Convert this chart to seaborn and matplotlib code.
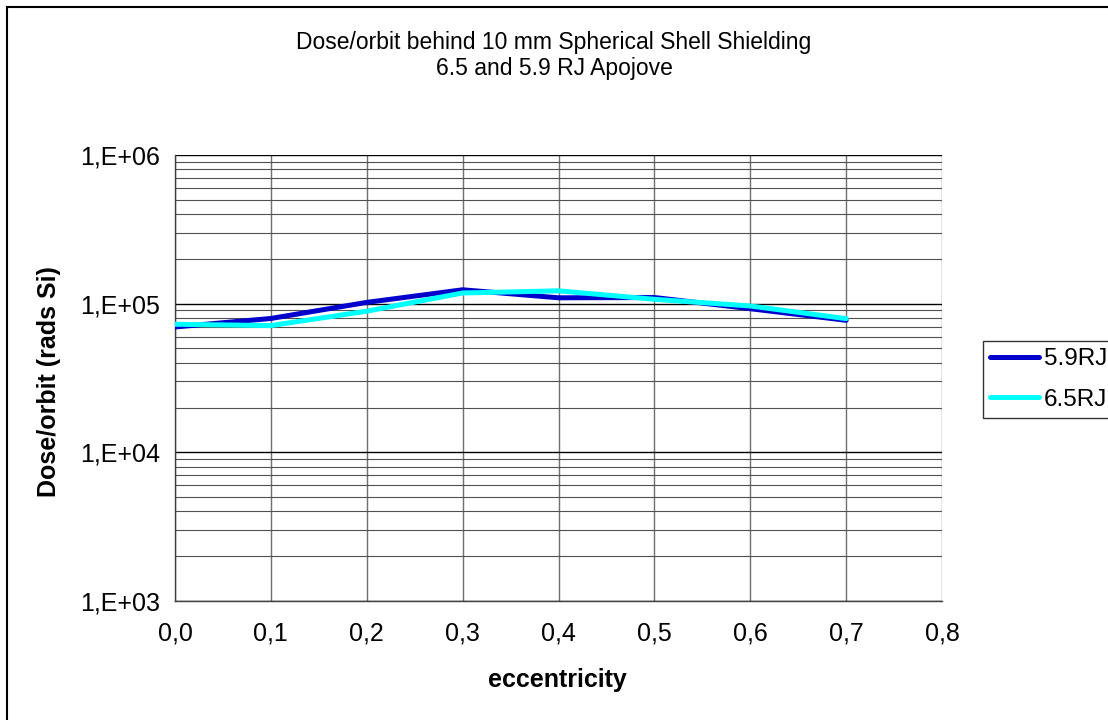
import matplotlib
matplotlib.use("Agg")
import matplotlib.pyplot as plt
import matplotlib.ticker as mticker
from matplotlib.patches import Rectangle
import seaborn as sns
import pandas as pd
import numpy as np

# ---- data ----
eccentricity = [0.0, 0.1, 0.2, 0.3, 0.4, 0.5, 0.6, 0.7]
dose_59RJ = [69700, 79500, 102000, 124000, 109500, 110000, 92500, 77300]
dose_65RJ = [72700, 71200, 89000, 118000, 122000, 107000, 96500, 79300]
series_names = ["5.9RJ", "6.5RJ"]
x_ticks = [0.0, 0.1, 0.2, 0.3, 0.4, 0.5, 0.6, 0.7, 0.8]
y_ticks = [1e3, 1e4, 1e5, 1e6]
title_line1 = "Dose/orbit behind 10 mm Spherical Shell Shielding"
title_line2 = "6.5 and 5.9 RJ Apojove"
x_label = "eccentricity"
y_label = "Dose/orbit (rads Si)"

df = pd.DataFrame({
    "ecc": eccentricity * 2,
    "dose": dose_59RJ + dose_65RJ,
    "series": [series_names[0]] * len(eccentricity) + [series_names[1]] * len(eccentricity),
})

sns.set_style("white")
plt.rcParams["font.family"] = ["Liberation Sans", "DejaVu Sans"]
plt.rcParams["text.color"] = "black"
plt.rcParams["axes.labelcolor"] = "black"
plt.rcParams["xtick.color"] = "black"
plt.rcParams["ytick.color"] = "black"

W, H = 1108, 720
fig = plt.figure(figsize=(W / 100, H / 100), dpi=100)
ax = fig.add_axes([175 / W, 1 - 601 / H, (942 - 175) / W, (601 - 155) / H])

palette = {"5.9RJ": "#0000CC", "6.5RJ": "#00FFFF"}
sns.lineplot(data=df, x="ecc", y="dose", hue="series", palette=palette,
             linewidth=3.6, ax=ax, legend=True, zorder=5)

ax.set_yscale("log")
ax.set_xlim(0, 0.8)
ax.set_ylim(1e3, 1e6)

ax.set_xticks(x_ticks)
ax.xaxis.set_major_formatter(mticker.FuncFormatter(lambda v, p: f"{v:.1f}".replace(".", ",")))
ax.yaxis.set_major_locator(mticker.FixedLocator(y_ticks))
ax.yaxis.set_major_formatter(mticker.FuncFormatter(lambda v, p: "1,E+%02d" % int(round(np.log10(v)))))
ax.yaxis.set_minor_locator(mticker.LogLocator(base=10, subs=np.arange(2, 10), numticks=20))
ax.yaxis.set_minor_formatter(mticker.NullFormatter())

# grid
ax.grid(True, which="major", axis="x", color="#707070", linewidth=1.0, zorder=1)
ax.grid(True, which="major", axis="y", color="black", linewidth=1.0, zorder=1)
ax.grid(True, which="minor", axis="y", color="#505050", linewidth=0.8, zorder=1)

for s in ["top", "right"]:
    ax.spines[s].set_visible(False)
for s in ["left", "bottom"]:
    ax.spines[s].set_color("#404040")
    ax.spines[s].set_linewidth(1.0)

ax.tick_params(axis="both", which="major", direction="inout", length=8, width=1,
               color="#404040", labelsize=18, labelcolor="black")
ax.tick_params(axis="y", which="minor", direction="in", length=4, width=1, color="#404040")
ax.tick_params(axis="x", which="minor", bottom=False)
ax.tick_params(axis="x", which="major", pad=11)
ax.tick_params(axis="y", which="major", pad=7)

ax.set_xlabel(x_label, fontsize=18, fontweight="bold", color="black")
ax.set_ylabel(y_label, fontsize=18, fontweight="bold", color="black")
ax.xaxis.set_label_coords(0.498, (601 - 680) / 446)
ax.xaxis.label.set_va("center")
ax.yaxis.set_label_coords((49 - 175) / 767, 0.493)
ax.yaxis.label.set_va("center")

fig.text(0.5, 1 - 43 / H, title_line1, ha="center", va="center", fontsize=16.5, color="black")
fig.text(0.5, 1 - 68 / H, title_line2, ha="center", va="center", fontsize=16.5, color="black")

leg = ax.legend(loc="upper left", bbox_to_anchor=(983 / W, 1 - 341 / H),
                bbox_transform=fig.transFigure, frameon=True, fancybox=False,
                fontsize=17.5, handlelength=2.0, handletextpad=0.2, borderpad=0.3,
                labelspacing=0.75, borderaxespad=0)
leg.get_frame().set_edgecolor("black")
leg.get_frame().set_linewidth(1.0)
for t in leg.get_texts():
    t.set_color("black")
for line in leg.get_lines():
    line.set_linewidth(3.6)

# outer chart frame (extends beyond right/bottom edges)
fig.patches.append(Rectangle((7 / W, -0.05), 1.1, 1 - 7 / H + 0.05,
                             transform=fig.transFigure, fill=False,
                             edgecolor="black", linewidth=1.5, clip_on=False))

fig.savefig("out.png", dpi=100)
